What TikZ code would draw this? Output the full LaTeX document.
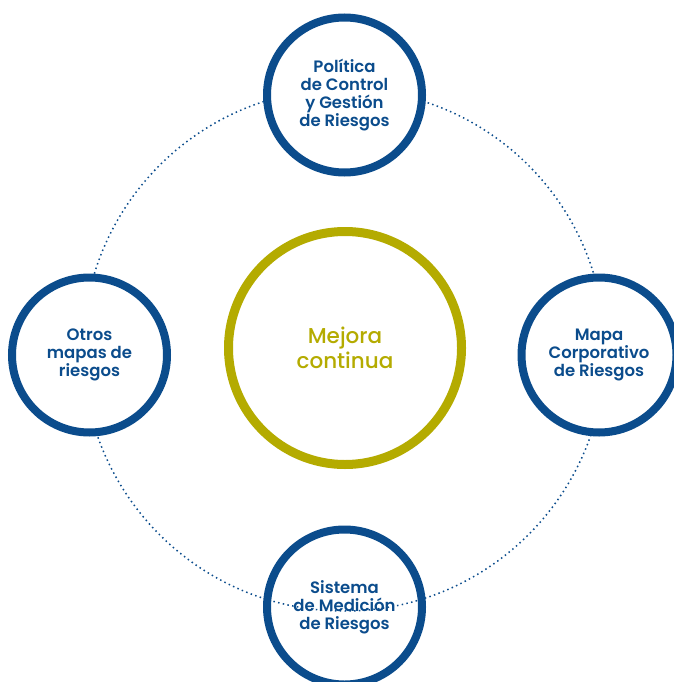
\documentclass[tikz,border=0pt]{standalone}
\usepackage{fontspec}
\setmainfont{Poppins}[BoldFont=Poppins SemiBold]
\newfontfamily\medfont{Poppins Medium}
\usetikzlibrary{positioning,backgrounds}
\definecolor{riskblue}{HTML}{0B4C8C}
\definecolor{olive}{HTML}{B4AB00}
\tikzset{
  % anillos
  ring/.style={circle,draw=riskblue,line width=8pt,fill=white,inner sep=0pt,
               minimum size=155pt,align=center,text=riskblue,
               font=\fontsize{16.5}{18}\selectfont\bfseries},
  openring/.style={ring,fill=none},
  core/.style={circle,draw=olive,line width=9pt,inner sep=0pt,
               minimum size=233pt,align=center,text=olive,
               font=\fontsize{21.5}{25}\selectfont\medfont},
  orbit/.style={draw=riskblue,line width=1.5pt,dash pattern=on 1.5pt off 3.3pt},
}
\begin{document}
\begin{tikzpicture}[x=1pt,y=-1pt]
\useasboundingbox (0,0) rectangle (673,682);
  \coordinate (c) at (344,350);
  \draw[orbit] (c) circle[radius=261];
  \node[core] (mejora) at (345,348) {Mejora\\continua};
  \node[ring] (pol) at (344.5,95) {Política\\de Control\\y Gestión\\de Riesgos};
  \node[ring] (otros) at (89.5,355) {Otros\\mapas de\\riesgos};
  \node[ring] (mapa) at (599,355) {Mapa\\Corporativo\\de Riesgos};
  \node[openring] (med) at (344.5,607) {Sistema\\de Medición\\de Riesgos};
\end{tikzpicture}
\end{document}
